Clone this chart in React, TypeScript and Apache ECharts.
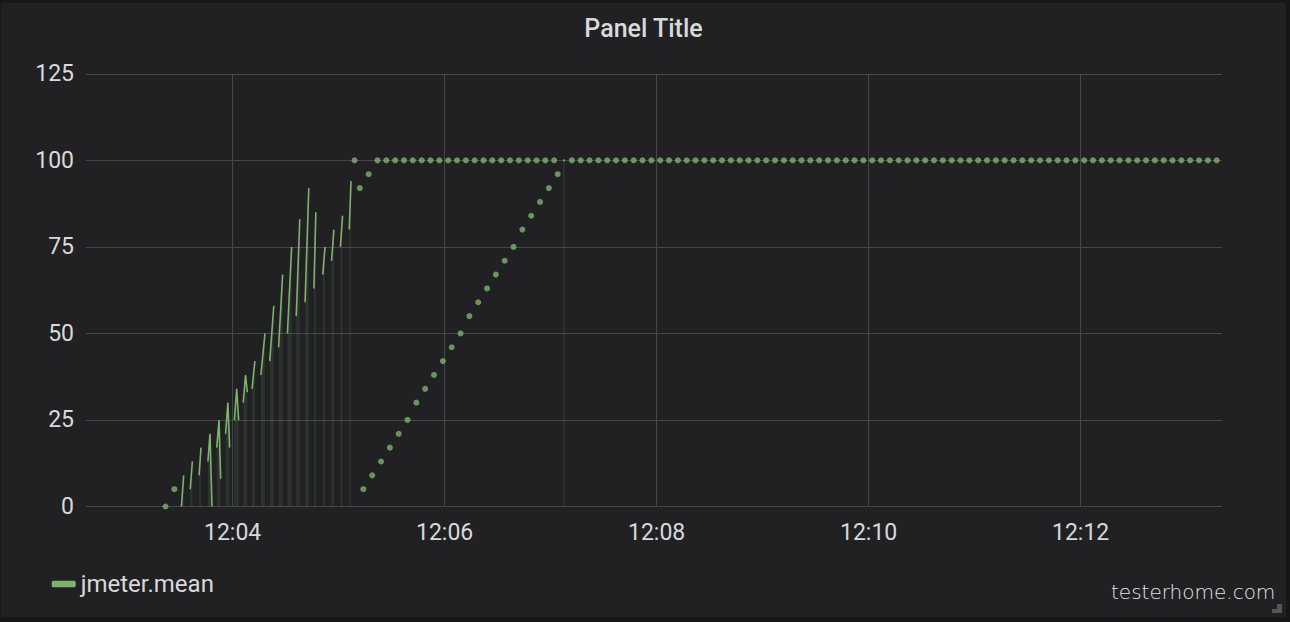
import React, { useEffect, useRef } from 'react';
import * as echarts from 'echarts';

// ---- data (x in seconds after 12:00:00, y = jmeter.mean) ----
const SERIES_NAME = 'jmeter.mean';
const TITLE = 'Panel Title';
const xTickSeconds = [240, 360, 480, 600, 720];
const xMin = 157;
const xMax = 800;

const startDotTimes = [202, 207];
const startDotValues = [0, 5];

const segmentTimes: number[][] = [
  [211, 212.3], [216, 217.2], [221, 222.1],
  [226, 227.2, 228.3], [231, 232.3, 233.2], [236, 237.3, 238.3],
  [241, 242.3, 243.4], [246, 247.3, 248.3],
  [251, 252.6], [256, 258.3], [261, 263.3], [266, 268.3], [271, 273.4],
  [276, 278], [281, 283.1], [286, 287.1], [291, 292.3], [296, 297.3],
  [301, 302.2], [306, 307], [427, 428],
];
const segmentValues: number[][] = [
  [0, 9], [5, 13], [9, 17],
  [13, 21, 0], [17, 25, 8], [21, 30, 17],
  [25, 34, 25], [30, 38, 33],
  [34, 42], [38, 50], [42, 58], [46, 67], [50, 75],
  [55, 83], [59, 92], [63, 85], [67, 75], [71, 80],
  [75, 84], [80, 94], [100, 100],
];

const run1TopTimes = [309, 312, 317];
const run1TopValues = [100, 92, 96];

const rampTimes = [314, 319, 324, 329, 334, 339, 344, 349, 354, 359, 364, 369,
  374, 379, 384, 389, 394, 399, 404, 409, 414, 419, 424];
const rampValues = [5, 9, 13, 17, 21, 25, 30, 34, 38, 42, 46, 50,
  55, 59, 63, 67, 71, 75, 80, 84, 88, 92, 96];

const plateauTimes = [
  322, 327, 332, 337, 342, 347, 352, 357, 362, 367, 372, 377, 382, 387, 392, 397, 402, 407, 412, 417, 422,
  432, 437, 442, 447, 452, 457, 462, 467, 472, 477, 482, 487, 492, 497, 502, 507, 512, 517, 522, 527,
  532, 537, 542, 547, 552, 557, 562, 567, 572, 577, 582, 587, 592, 597, 602, 607, 612, 617, 622, 627,
  632, 637, 642, 647, 652, 657, 662, 667, 672, 677, 682, 687, 692, 697, 702, 707, 712, 717, 722, 727,
  732, 737, 742, 747, 752, 757, 762, 767, 772, 777, 782, 787, 792, 797,
];
const plateauValues = [
  100, 100, 100, 100, 100, 100, 100, 100, 100, 100, 100, 100, 100, 100, 100, 100, 100, 100, 100, 100, 100,
  100, 100, 100, 100, 100, 100, 100, 100, 100, 100, 100, 100, 100, 100, 100, 100, 100, 100, 100, 100,
  100, 100, 100, 100, 100, 100, 100, 100, 100, 100, 100, 100, 100, 100, 100, 100, 100, 100, 100, 100,
  100, 100, 100, 100, 100, 100, 100, 100, 100, 100, 100, 100, 100, 100, 100, 100, 100, 100, 100, 100,
  100, 100, 100, 100, 100, 100, 100, 100, 100, 100, 100, 100, 100, 100,
];

const GREEN = '#7eb26d';
const TEXT = '#d8d9da';
const GRID = '#47474a';
const FONT = 'Roboto, "Noto Sans", sans-serif';

function pairs(ts: number[], vs: number[]) {
  return ts.map((t, i) => [t, vs[i]]);
}

export default function App() {
  const ref = useRef<HTMLDivElement>(null);

  useEffect(() => {
    if (!ref.current) return;
    const chart = echarts.init(ref.current, undefined, { renderer: 'svg' });

    const lineData: any[] = [];
    segmentTimes.forEach((ts, i) => {
      ts.forEach((t, j) => lineData.push([t, segmentValues[i][j]]));
      lineData.push([ts[ts.length - 1] + 0.05, null]);
    });

    const dotData = [
      ...pairs(startDotTimes, startDotValues),
      ...pairs(run1TopTimes, run1TopValues),
      ...pairs(rampTimes, rampValues),
      ...pairs(plateauTimes, plateauValues),
    ];

    chart.setOption({
      animation: false,
      backgroundColor: '#212124',
      color: [GREEN],
      textStyle: { fontFamily: FONT },
      title: {
        text: TITLE,
        left: 'center',
        top: 13,
        padding: 0,
        textStyle: { color: TEXT, fontSize: 25, fontWeight: 500, fontFamily: FONT },
      },
      legend: {
        data: [{ name: SERIES_NAME, icon: 'roundRect' }],
        left: 50.7,
        top: 569,
        padding: 0,
        itemWidth: 24,
        itemHeight: 6.6,
        textStyle: { color: TEXT, fontSize: 24, fontFamily: FONT },
      },
      grid: { left: 85, top: 70.8, width: 1136, height: 432.7, containLabel: false },
      xAxis: {
        type: 'value',
        min: xMin,
        max: xMax,
        axisLine: { show: false },
        axisTick: { show: false, customValues: xTickSeconds },
        axisLabel: {
          customValues: xTickSeconds,
          color: TEXT,
          fontSize: 23,
          fontFamily: FONT,
          margin: 14,
          formatter: (v: number) => {
            const m = Math.round(v / 60);
            return '12:' + (m < 10 ? '0' + m : String(m));
          },
        },
        splitLine: { show: true, lineStyle: { color: GRID, width: 1 } },
      },
      yAxis: {
        type: 'value',
        min: 0,
        max: 125,
        interval: 25,
        axisLine: { show: false },
        axisTick: { show: false },
        axisLabel: { color: TEXT, fontSize: 23, fontFamily: FONT, margin: 12 },
        splitLine: { show: true, lineStyle: { color: GRID, width: 1 } },
      },
      series: [
        {
          name: SERIES_NAME,
          type: 'line',
          data: lineData,
          showSymbol: false,
          connectNulls: false,
          lineStyle: { color: GREEN, width: 1.6 },
          areaStyle: { color: GREEN, opacity: 0.12 },
          z: 2,
        },
        {
          name: SERIES_NAME,
          type: 'scatter',
          data: dotData,
          symbol: 'circle',
          symbolSize: 6,
          itemStyle: { color: GREEN },
          z: 3,
        },
      ],
      graphic: [
        {
          type: 'text',
          x: 1110,
          y: 599,
          style: {
            text: 'testerhome.com',
            fill: '#e4e4e4',
            font: '200 20px "DejaVu Sans", sans-serif',
            textVerticalAlign: 'bottom',
          },
        },
        { type: 'rect', shape: { x: 1276, y: 601, width: 5, height: 9 }, style: { fill: '#55555a' } },
        { type: 'rect', shape: { x: 1271, y: 606, width: 10, height: 4 }, style: { fill: '#55555a' } },
      ],
    });

    return () => chart.dispose();
  }, []);

  return (
    <div style={{ position: 'fixed', left: 0, top: 0, width: 1290, height: 622, background: '#161719' }}>
      <div
        ref={ref}
        style={{ position: 'absolute', left: 1, top: 3, width: 1285, height: 614, borderRadius: 3, overflow: 'hidden' }}
      />
    </div>
  );
}
